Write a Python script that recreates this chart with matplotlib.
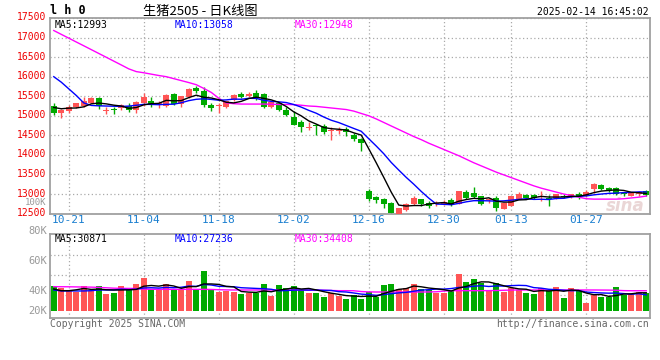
import matplotlib
matplotlib.use('Agg')
import matplotlib.pyplot as plt
import matplotlib.transforms as mtransforms
import numpy as np

# ---------------- data ----------------
dates = ['10-21', '11-04', '11-18', '12-02', '12-16', '12-30', '01-13', '01-27']
date_idx = [2, 12, 22, 32, 42, 52, 61, 71]

open_ = [15238,15059,15128,15213,15238,15333,15443,15120,15160,15187,
         15256,15146,15333,15385,15277,15256,15556,15299,15470,15700,
         15624,15274,15240,15214,15402,15547,15496,15590,15556,15214,
         15325,15154,14974,14829,14690,14750,14744,14607,14624,14675,
         14500,14400,13077,12923,12880,12778,12479,12581,12735,12863,
         12778,12735,12735,12838,12735,13060,13017,12948,12850,12906,
         12607,12692,12880,12974,12966,12920,12880,12906,12960,12920,
         13008,12948,13137,13231,13162,13145,13034,12960,12990,13077]
high = [15326,15179,15282,15333,15487,15487,15479,15213,15231,15300,
        15315,15385,15572,15487,15367,15556,15573,15513,15700,15752,
        15743,15325,15325,15385,15556,15598,15598,15667,15581,15367,
        15342,15214,15128,14889,14829,14786,14803,14701,14701,14701,
        14550,14420,13120,12948,12906,12800,12650,12778,12948,12880,
        12820,12820,12838,12906,13077,13094,13180,12948,12906,12948,
        12778,12948,13043,13008,12990,13077,12966,13008,12990,13010,
        13050,13094,13290,13250,13180,13180,13060,13060,13077,13100]
low = [15018,14941,15084,15197,15213,15315,15172,15043,15043,15146,
       15102,15059,15256,15231,15205,15231,15273,15214,15453,15581,
       15231,15111,15068,15197,15385,15445,15470,15402,15197,15197,
       15128,14983,14761,14590,14641,14504,14547,14385,14530,14487,
       14350,14100,12820,12778,12650,12496,12479,12564,12710,12692,
       12650,12692,12710,12692,12735,12863,12906,12718,12778,12564,
       12607,12692,12863,12880,12870,12820,12700,12880,12890,12900,
       12880,12930,13034,13100,13060,12974,12960,12940,12960,12960]
close = [15059,15154,15231,15315,15385,15443,15256,15128,15150,15274,
         15146,15359,15469,15300,15316,15530,15299,15496,15684,15624,
         15274,15197,15274,15367,15538,15470,15556,15453,15214,15342,
         15154,15026,14769,14701,14701,14744,14590,14615,14632,14590,
         14400,14300,12863,12838,12735,12505,12650,12735,12906,12735,
         12692,12778,12800,12735,13077,12906,12932,12735,12870,12650,
         12778,12948,13000,12906,12906,12940,12870,12991,12920,12991,
         12940,13060,13265,13120,13077,13008,12990,13034,13060,12974]

ma5 = [15213,15180,15196,15200,15229,15306,15326,15305,15272,15250,
       15191,15211,15280,15310,15318,15395,15383,15388,15465,15527,
       15475,15455,15411,15347,15330,15369,15441,15477,15446,15407,
       15344,15238,15101,14998,14870,14788,14701,14670,14656,14634,
       14565,14507,14157,13798,13427,13048,12718,12693,12706,12706,
       12744,12769,12782,12748,12816,12859,12890,12877,12904,12819,
       12793,12796,12849,12856,12908,12940,12924,12923,12925,12942,
       12942,12980,13035,13075,13092,13106,13092,13046,13034,13013]
ma10 = [16000,15860,15690,15520,15330,15265,15255,15250,15245,15240,
        15248,15269,15293,15291,15284,15293,15297,15334,15387,15422,
        15435,15419,15399,15406,15428,15422,15448,15444,15397,15369,
        15357,15339,15289,15222,15139,15066,14969,14886,14827,14752,
        14677,14604,14414,14227,14031,13807,13613,13425,13252,13067,
        12896,12744,12737,12727,12761,12801,12830,12830,12826,12818,
        12826,12843,12863,12880,12863,12867,12860,12886,12891,12925,
        12941,12952,12979,13000,13017,13024,13036,13041,13055,13053]
ma30 = [17180,17082,16985,16887,16790,16692,16594,16496,16398,16300,
        16200,16130,16100,16065,16030,16000,15950,15900,15850,15795,
        15700,15598,15450,15330,15310,15300,15300,15300,15300,15295,
        15290,15290,15285,15270,15250,15240,15220,15200,15180,15160,
        15120,15060,15000,14920,14830,14740,14650,14560,14470,14390,
        14300,14220,14140,14060,13980,13890,13800,13720,13640,13560,
        13490,13420,13350,13280,13210,13150,13100,13050,13000,12960,
        12920,12880,12870,12870,12870,12870,12880,12900,12920,12948]

vol_k = [42.5,39.7,34.5,32.2,42.5,34.5,42.5,28.7,30.5,42.5,
         35.7,46.0,56.4,36.8,36.8,46.0,36.8,36.8,51.0,36.8,
         69.0,36.8,32.8,33.9,32.8,29.3,31.0,31.0,46.0,25.9,
         44.0,39.0,42.5,35.7,31.0,31.0,23.6,29.9,25.3,20.1,
         27.0,20.1,32.8,24.0,44.0,46.0,37.4,39.0,46.0,37.4,
         35.7,31.0,31.0,34.5,63.0,49.5,54.6,47.0,33.4,47.7,
         32.2,39.0,35.7,30.5,28.7,39.0,35.7,41.4,22.4,39.7,
         34.5,13.8,27.0,24.1,24.1,41.4,27.0,28.8,32.8,30.0]
vma5_k = [37.4,34.5,34.5,36.0,38.3,36.7,37.3,36.1,35.7,35.7,
          36.0,36.7,42.2,43.5,42.3,44.4,42.6,38.6,41.5,41.5,
          46.1,46.1,45.3,41.9,41.1,33.1,32.0,31.6,34.0,32.6,
          35.6,37.2,39.5,37.4,38.4,35.8,32.8,30.2,28.2,26.0,
          25.2,24.5,25.1,24.8,29.6,33.4,36.8,38.1,42.5,41.2,
          39.1,37.8,36.2,33.9,39.0,41.8,46.5,49.7,49.5,46.4,
          43.0,39.9,37.6,37.0,33.2,34.6,33.9,35.1,33.5,35.7,
          34.8,30.4,27.5,27.8,24.7,26.1,28.7,29.1,30.8,30.9]
vma10_k = [35.7,34.0,34.0,34.0,34.0,34.5,35.7,35.7,35.7,37.0,
           36.3,37.0,39.2,39.6,39.0,40.2,39.6,40.4,42.5,41.9,
           45.2,44.3,42.0,41.7,41.3,39.6,39.0,38.4,37.9,36.9,
           34.4,34.6,35.5,35.7,35.5,35.7,35.0,34.9,32.8,32.2,
           30.5,28.6,27.7,26.5,27.8,29.3,30.7,31.6,33.6,35.4,
           36.2,37.3,37.2,38.2,40.1,40.5,42.2,43.0,41.7,42.7,
           42.4,43.2,43.7,43.3,39.8,38.8,36.9,36.3,35.2,34.4,
           34.7,32.1,31.3,30.6,30.2,30.4,29.5,28.3,29.3,27.2]
vma30_k = [41.4,41.3,41.2,41.0,40.8,40.6,40.2,39.5,38.8,38.5,
           38.4,38.2,37.2,36.9,36.8,36.8,36.8,36.8,36.8,36.8,
           36.8,36.6,36.2,35.8,35.7,35.7,35.7,35.7,35.7,35.7,
           35.7,35.7,35.7,35.6,35.5,35.4,35.3,34.8,34.5,34.5,
           34.4,33.0,32.4,32.2,32.2,32.2,32.2,32.2,32.2,32.2,
           32.3,32.6,33.8,34.5,34.5,34.5,34.5,34.5,34.6,34.8,
           35.2,35.6,35.7,35.7,35.7,35.7,35.7,35.7,35.7,35.7,
           35.7,35.7,35.7,35.6,35.5,35.2,34.6,34.4,34.4,34.4]

price_ticks = [12500, 13000, 13500, 14000, 14500, 15000, 15500, 16000, 16500, 17000, 17500]
vol_labels = ['80K', '60K', '40K', '20K']

n = len(close)
for arr in (open_, high, low, ma5, ma10, ma30, vol_k, vma5_k, vma10_k, vma30_k):
    assert len(arr) == n

# ---------------- styling ----------------
RED = '#ff5555'
GREEN = '#00aa00'
GRID = '#aaaaaa'
FRAME = '#a0a0a0'
MONO = 'DejaVu Sans Mono'
CJK = ['Noto Sans CJK SC', 'DejaVu Sans']
W, H = 660, 360

def box(l, t, r, b):
    return [l / W, 1 - b / H, (r - l) / W, (b - t) / H]

fig = plt.figure(figsize=(W / 100, H / 100), dpi=100)
ax = fig.add_axes(box(50, 18, 650, 213.6))
axv = fig.add_axes(box(50, 234, 650, 318))

x = np.arange(n)
o = np.array(open_, float)
c = np.array(close, float)
hi = np.array(high, float)
lo = np.array(low, float)
up = c >= o
cols = np.where(up, RED, GREEN)

# ---------------- price panel ----------------
ax.set_xlim(-0.5, n - 0.5)
ax.set_ylim(12500, 17500)
ax.text(n - 1.2, 12700, 'sina', ha='right', va='center', fontsize=12,
        fontstyle='italic', fontweight='bold', color='#ead6d6', zorder=0.5)
ax.vlines(x, lo, hi, colors=cols, lw=1, zorder=2)
body_b = np.minimum(o, c)
body_h = np.maximum(np.abs(c - o), 22)
ax.bar(x, body_h, bottom=body_b, width=0.8, color=cols, lw=0, zorder=3)
ax.plot(x, ma30, color='#ff00ff', lw=1, zorder=4)
ax.plot(x, ma10, color='#0000ff', lw=1, zorder=4)
ax.plot(x, ma5, color='black', lw=1, zorder=5)

ax.set_yticks(price_ticks)
ax.set_yticklabels([str(t) for t in price_ticks])
ax.set_xticks(date_idx)
ax.set_xticklabels(dates)
ax.tick_params(axis='y', length=0, pad=3, labelsize=7, labelcolor='#ee0000')
ax.tick_params(axis='x', length=0, pad=1, labelsize=8, labelcolor='#1a7fd0')
lift = mtransforms.ScaledTranslation(0, 1.5 / 100, fig.dpi_scale_trans)
for lab in ax.get_yticklabels():
    lab.set_fontfamily(MONO)
    lab.set_transform(lab.get_transform() + lift)
for lab in ax.get_xticklabels():
    lab.set_fontfamily(MONO)
ax.grid(True, color=GRID, ls=(0, (1, 2)), lw=0.9)
ax.set_axisbelow(True)
for s in ax.spines.values():
    s.set_color(FRAME)
    s.set_linewidth(1.3)

# ---------------- volume panel ----------------
vol = np.array(vol_k) * 1000
axv.set_xlim(-0.5, n - 0.5)
axv.set_ylim(-12600, 132200)
axv.bar(x, vol, width=0.8, color=cols, lw=0, zorder=3)
axv.plot(x, np.array(vma30_k) * 1000, color='#ff00ff', lw=1, zorder=4)
axv.plot(x, np.array(vma10_k) * 1000, color='#0000ff', lw=1, zorder=4)
axv.plot(x, np.array(vma5_k) * 1000, color='black', lw=1, zorder=5)
axv.set_xticks(date_idx)
axv.set_xticklabels([])
axv.set_yticks([27100, 61600, 96000])
axv.set_yticklabels([])
axv.tick_params(length=0)
axv.grid(True, color=GRID, ls=(0, (1, 2)), lw=0.9)
axv.set_axisbelow(True)
for s in axv.spines.values():
    s.set_color(FRAME)
    s.set_linewidth(1.3)

for lab, ypx in zip(vol_labels, [231, 261, 291, 311]):
    fig.text(47 / W, 1 - ypx / H, lab, ha='right', va='center', fontsize=7.5,
             family=MONO, color='#999999')
fig.text(46 / W, 1 - 202.5 / H, '100K', ha='right', va='center', fontsize=6.5,
         family=MONO, color='#999999')

# ---------------- header / legends ----------------
fig.text(50 / W, 1 - 11 / H, 'l h 0', ha='left', va='center', fontsize=8.5,
         fontweight='bold', family=MONO, color='black')
fig.text(200 / W, 1 - 11 / H, '生猪2505 - 日K线图', ha='center', va='center',
         fontsize=9.5, family=CJK, color='black')
fig.text(649 / W, 1 - 12 / H, '2025-02-14 16:45:02', ha='right', va='center',
         fontsize=7, family=MONO, color='black')

for txt, xp, col in [('MA5:12993', 55, 'black'), ('MA10:13058', 175, '#0000ff'),
                     ('MA30:12948', 295, '#ff00ff')]:
    fig.text(xp / W, 1 - 24.5 / H, txt, ha='left', va='center', fontsize=7,
             family=MONO, color=col)
for txt, xp, col in [('MA5:30871', 55, 'black'), ('MA10:27236', 175, '#0000ff'),
                     ('MA30:34408', 295, '#ff00ff')]:
    fig.text(xp / W, 1 - 238.5 / H, txt, ha='left', va='center', fontsize=7,
             family=MONO, color=col)

fig.text(50 / W, 1 - 324 / H, 'Copyright 2025 SINA.COM', ha='left', va='center',
         fontsize=7, family=MONO, color='#666666')
fig.text(649 / W, 1 - 324 / H, 'http://finance.sina.com.cn', ha='right', va='center',
         fontsize=7, family=MONO, color='#666666')

fig.savefig('out.png', dpi=100)
